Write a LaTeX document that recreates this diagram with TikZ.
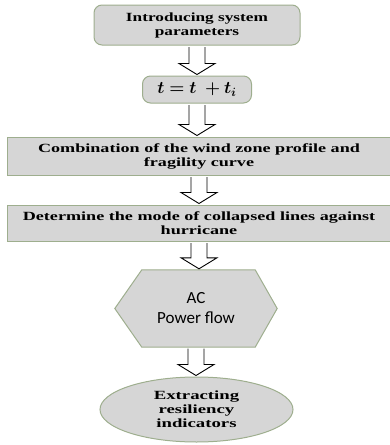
\documentclass[tikz,border=0pt]{standalone}
\usepackage{bm}
\usepackage{fontspec}
\newfontfamily\stepfont[FakeStretch=1.38]{Liberation Serif}
\newfontfamily\widefont[FakeStretch=1.45]{Liberation Serif}
\newfontfamily\ovalfont[FakeStretch=1.5]{Liberation Serif}
\newfontfamily\calcfont{Carlito}
\usetikzlibrary{shapes.geometric,calc,backgrounds}
\definecolor{stepgray}{RGB}{214,214,214}
\definecolor{stepedge}{RGB}{158,174,142}
\tikzset{
    stepbox/.style={draw=stepedge, fill=stepgray, line width=1pt, inner sep=0pt,
        align=center, font=\stepfont\bfseries\fontsize{12.5}{14}\selectfont},
    widebox/.style={stepbox, font=\widefont\bfseries\fontsize{12.5}{14}\selectfont},
    roundbox/.style={stepbox, rounded corners=8pt},
    flowarrow/.style={draw=black, fill=white, line width=0.9pt, line join=miter}
}
% hollow block arrow from the bottom of one node to the top of the next
\newcommand{\hollowarrow}[2]{%
    \draw[flowarrow] let \p1=(#1.south), \p2=(#2.north) in
        ({\x1-8pt},{\y1-1.5pt}) -- ({\x1-8pt},{\y2+12pt}) -- ({\x1-18pt},{\y2+12pt})
        -- ({\x1},{\y2+1pt}) -- ({\x1+18pt},{\y2+12pt}) -- ({\x1+8pt},{\y2+12pt})
        -- ({\x1+8pt},{\y1-1.5pt});
}
\newcommand{\steptime}{$\bm{t} \mathrel{\bm{=}} \bm{t}\;\bm{+}\bm{t}_{\bm{i}}$}
\begin{document}
\begin{tikzpicture}[x=1pt, y=-1pt]
    \useasboundingbox (0,0) rectangle (389,445);

    \node[roundbox, minimum width=206pt, minimum height=40pt] (intro) at (197,25)
        {Introducing system\\parameters};
    \node[roundbox, minimum width=109pt, minimum height=27pt, font=\fontsize{17.5}{20}\selectfont] (tstep) at (197,89.5)
        {\steptime};
    \node[widebox, minimum width=384pt, minimum height=38pt] (wind) at (199,156)
        {Combination of the wind zone profile and\\fragility curve};
    \node[widebox, minimum width=384pt, minimum height=36pt] (mode) at (199,223)
        {Determine the mode of collapsed lines against\\hurricane};
    \node[inner sep=0pt, minimum width=162pt, minimum height=77pt, align=center,
        font=\calcfont\fontsize{17}{20}\selectfont] (flow) at (196,308.5)
        {AC\\Power flow};
    \node[stepbox, ellipse, minimum width=193pt, minimum height=65pt,
        font=\ovalfont\bfseries\fontsize{12.5}{14}\selectfont] (result) at (196.5,409.5)
        {Extracting\\resiliency\\indicators};

    \begin{scope}[on background layer]
        \draw[stepedge, fill=stepgray, line width=1pt] (flow.west)
            -- ([xshift=27pt]flow.north west) -- ([xshift=-22pt]flow.north east)
            -- (flow.east) -- ([xshift=-22pt]flow.south east)
            -- ([xshift=27pt]flow.south west) -- cycle;
    \end{scope}

    \hollowarrow{intro}{tstep}
    \hollowarrow{tstep}{wind}
    \hollowarrow{wind}{mode}
    \hollowarrow{mode}{flow}
    \hollowarrow{flow}{result}
\end{tikzpicture}
\end{document}
